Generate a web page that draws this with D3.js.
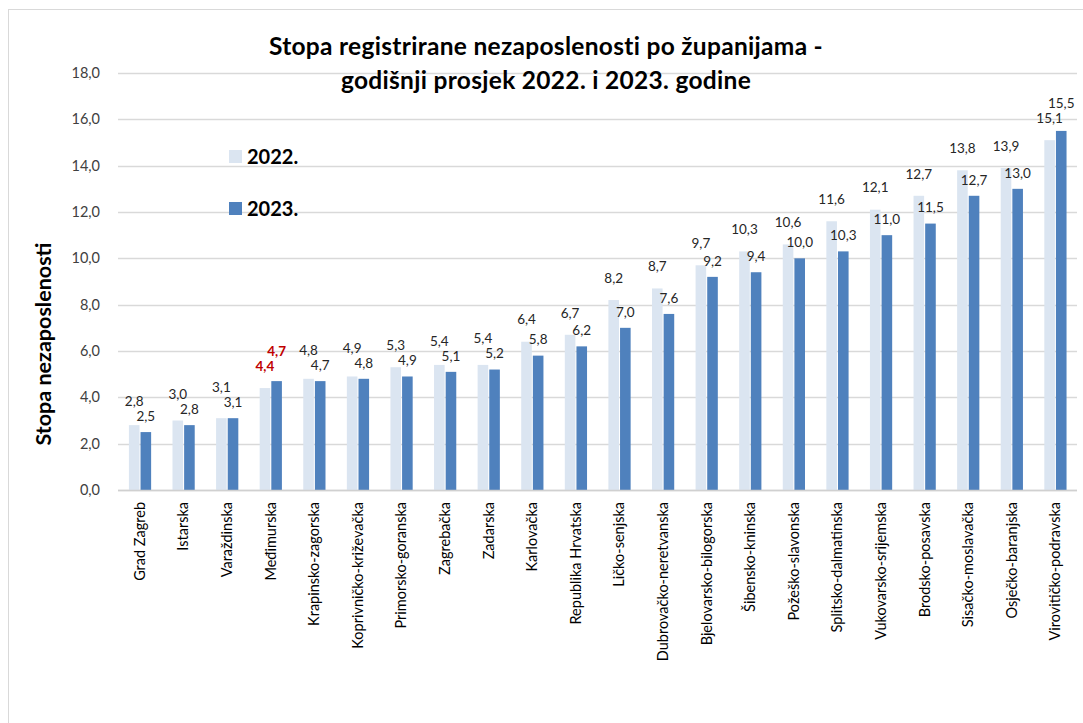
<!DOCTYPE html>
<meta charset="utf-8">
<title>Stopa registrirane nezaposlenosti</title>
<script src="https://d3js.org/d3.v7.min.js"></script>
<style>
  body { margin: 0; background: #fff; }
  svg text { font-family: Lato, "Open Sans", sans-serif; }
</style>
<body>
<div id="chart"></div>
<script>

var zupanije = ["Grad Zagreb", "Istarska", "Varaždinska", "Međimurska", "Krapinsko-zagorska",
  "Koprivničko-križevačka", "Primorsko-goranska", "Zagrebačka", "Zadarska", "Karlovačka",
  "Republika Hrvatska", "Ličko-senjska", "Dubrovačko-neretvanska", "Bjelovarsko-bilogorska",
  "Šibensko-kninska", "Požeško-slavonska", "Splitsko-dalmatinska", "Vukovarsko-srijemska",
  "Brodsko-posavska", "Sisačko-moslavačka", "Osječko-baranjska", "Virovitičko-podravska"];

var god2022 = [2.8, 3.0, 3.1, 4.4, 4.8, 4.9, 5.3, 5.4, 5.4, 6.4, 6.7, 8.2, 8.7, 9.7, 10.3, 10.6, 11.6, 12.1, 12.7, 13.8, 13.9, 15.1];
var god2023 = [2.5, 2.8, 3.1, 4.7, 4.7, 4.8, 4.9, 5.1, 5.2, 5.8, 6.2, 7.0, 7.6, 9.2, 9.4, 10.0, 10.3, 11.0, 11.5, 12.7, 13.0, 15.5];

var godine = ["2022.", "2023."];
var yTicks = [0, 2, 4, 6, 8, 10, 12, 14, 16, 18];
var istaknuta = "Međimurska";

var W = 1083, H = 723;
var plot = {left: 118, right: 1077, top: 73, bottom: 490};

var boje = {"2022.": "#dbe5f1", "2023.": "#4f81bd"};

var svg = d3.select("#chart").append("svg")
  .attr("width", W)
  .attr("height", H);

// okvir grafikona
svg.append("rect")
  .attr("x", 8.5).attr("y", 9.5)
  .attr("width", 1200).attr("height", 900)
  .attr("fill", "none")
  .attr("stroke", "#d9d9d9");

var y = d3.scaleLinear()
  .domain([0, 18])
  .range([plot.bottom, plot.top]);

var x = d3.scaleBand()
  .domain(zupanije)
  .range([plot.left, plot.right]);

var bw = x.bandwidth();
var xSub = d3.scaleBand()
  .domain(godine)
  .range([bw * 0.25, bw * 0.76])
  .paddingInner(0.09);

// mreza
svg.append("g")
  .selectAll("line")
  .data(yTicks)
  .join("line")
    .attr("x1", plot.left).attr("x2", plot.right)
    .attr("y1", function(d) { return Math.round(y(d)) + 0.5; })
    .attr("y2", function(d) { return Math.round(y(d)) + 0.5; })
    .attr("stroke", "#d9d9d9")
    .attr("stroke-width", 1.3);

// y os
var yAxis = svg.append("g")
  .attr("transform", "translate(" + plot.left + ",0)")
  .call(d3.axisLeft(y).tickValues(yTicks).tickSize(0).tickPadding(18)
    .tickFormat(function(d) { return d3.format(".1f")(d).replace(".", ","); }));
yAxis.select(".domain").remove();
yAxis.selectAll("text")
  .style("font-family", "Lato, sans-serif")
  .style("font-size", "14.5px")
  .attr("fill", "#404040");

// x os - nazivi
var xAxis = svg.append("g")
  .attr("transform", "translate(0," + plot.bottom + ")")
  .call(d3.axisBottom(x).tickSize(0).tickPadding(0));
xAxis.select(".domain").remove();
xAxis.selectAll("text")
  .attr("transform", "rotate(-90)")
  .attr("x", -12)
  .attr("y", 0)
  .attr("dy", "0.35em")
  .attr("text-anchor", "end")
  .style("font-family", "Lato, sans-serif")
  .style("font-size", "14.5px")
  .attr("fill", "#000");

// stupci
var podaci = zupanije.map(function(z, i) {
  return {zupanija: z, vrijednosti: [
    {god: "2022.", v: god2022[i]},
    {god: "2023.", v: god2023[i]}
  ]};
});

var grupe = svg.append("g")
  .selectAll("g")
  .data(podaci)
  .join("g")
    .attr("transform", function(d) { return "translate(" + x(d.zupanija) + ",0)"; });

grupe.selectAll("rect")
  .data(function(d) { return d.vrijednosti; })
  .join("rect")
    .attr("x", function(d) { return xSub(d.god); })
    .attr("y", function(d) { return y(d.v); })
    .attr("width", xSub.bandwidth())
    .attr("height", function(d) { return plot.bottom - y(d.v); })
    .attr("fill", function(d) { return boje[d.god]; });

// os x linija
svg.append("line")
  .attr("x1", plot.left).attr("x2", plot.right)
  .attr("y1", plot.bottom + 0.5).attr("y2", plot.bottom + 0.5)
  .attr("stroke", "#d0d0d0")
  .attr("stroke-width", 1.5);

// oznake vrijednosti
grupe.each(function(d) {
  var g = d3.select(this);
  var a = d.vrijednosti[0], b = d.vrijednosti[1];
  var ya = y(a.v) - 22, yb = y(b.v) - 16;
  if (Math.abs(ya - yb) < 15) {
    if (b.v > a.v) yb = ya - 15;
    else ya = yb - 15;
  }
  var crveno = d.zupanija === istaknuta;
  [[a, ya], [b, yb]].forEach(function(p) {
    g.append("text")
      .attr("x", xSub(p[0].god) + xSub.bandwidth() / 2)
      .attr("y", p[1])
      .attr("dy", "0.35em")
      .attr("text-anchor", "middle")
      .style("font-size", "13.5px")
      .style("font-weight", crveno ? "bold" : "normal")
      .attr("fill", crveno ? "#c00000" : "#262626")
      .text(d3.format(".1f")(p[0].v).replace(".", ","));
  });
});

// naslov
var naslov = svg.append("text")
  .attr("text-anchor", "middle")
  .style("font-size", "24.5px")
  .style("font-weight", "bold")
  .style("letter-spacing", "0.3px")
  .attr("fill", "#000");
naslov.append("tspan").attr("x", 546).attr("y", 55)
  .text("Stopa registrirane nezaposlenosti po županijama -");
naslov.append("tspan").attr("x", 546).attr("y", 89)
  .text("godišnji prosjek 2022. i 2023. godine");

// naslov y osi
svg.append("text")
  .attr("transform", "translate(51,344) rotate(-90)")
  .attr("text-anchor", "middle")
  .style("font-size", "21.5px")
  .style("font-weight", "bold")
  .attr("fill", "#000")
  .text("Stopa nezaposlenosti");

// legenda
var legenda = svg.append("g")
  .selectAll("g")
  .data(godine)
  .join("g")
    .attr("transform", function(d, i) { return "translate(229," + (150 + i * 52) + ")"; });
legenda.append("rect")
  .attr("width", 13).attr("height", 13)
  .attr("fill", function(d) { return boje[d]; });
legenda.append("text")
  .attr("x", 18).attr("y", 7)
  .attr("dy", "0.35em")
  .style("font-size", "20px")
  .style("font-weight", "bold")
  .attr("fill", "#000")
  .text(function(d) { return d; });

</script>
</body>
